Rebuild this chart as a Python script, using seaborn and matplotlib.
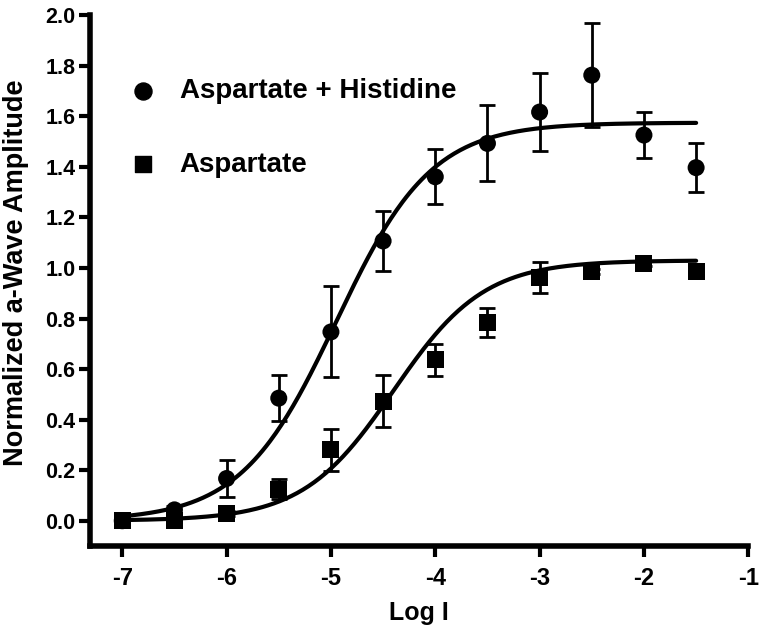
import numpy as np
import pandas as pd
import matplotlib
matplotlib.use("Agg")
import matplotlib.pyplot as plt
import seaborn as sns

# log concentrations
log_i = [-7, -6.5, -6, -5.5, -5, -4.5, -4, -3.5, -3, -2.5, -2, -1.5]

# aspartate + histidine (mean, sem)
his_mean = [0.0, 0.043, 0.167, 0.485, 0.747, 1.107, 1.361, 1.493, 1.617, 1.763, 1.526, 1.397]
his_sem = [0.01, 0.015, 0.075, 0.09, 0.18, 0.117, 0.108, 0.15, 0.155, 0.205, 0.09, 0.098]

# aspartate alone
asp_mean = [0.0, 0.002, 0.03, 0.125, 0.28, 0.472, 0.636, 0.784, 0.962, 0.988, 1.018, 0.985]
asp_sem = [0.005, 0.005, 0.01, 0.04, 0.083, 0.103, 0.064, 0.057, 0.06, 0.01, 0.01, 0.01]

# sigmoid fit parameters (top, logEC50, hill)
his_fit = (1.575, -4.95, 0.95)
asp_fit = (1.03, -4.40, 1.0)

labels = ["Aspartate + Histidine", "Aspartate"]


def sigmoid(x, top, ec50, hill):
    return top / (1 + 10 ** (hill * (ec50 - x)))


df = pd.DataFrame({
    "Log I": log_i * 2,
    "amp": his_mean + asp_mean,
    "sem": his_sem + asp_sem,
    "group": [labels[0]] * len(log_i) + [labels[1]] * len(log_i),
})

xs = np.linspace(-7, -1.5, 300)
fit_df = pd.DataFrame({
    "Log I": np.concatenate([xs, xs]),
    "amp": np.concatenate([sigmoid(xs, *his_fit), sigmoid(xs, *asp_fit)]),
    "group": [labels[0]] * len(xs) + [labels[1]] * len(xs),
})

sns.set_style("ticks")
plt.rcParams["font.family"] = ["Liberation Sans", "DejaVu Sans"]
plt.rcParams["font.weight"] = "bold"
plt.rcParams["axes.unicode_minus"] = False
for k in ["text.color", "axes.labelcolor", "xtick.color", "ytick.color", "axes.edgecolor"]:
    plt.rcParams[k] = "black"

fig = plt.figure(figsize=(7.62, 6.36), dpi=100)
ax = fig.add_axes([0.118, 0.1415, 0.864, 0.8345])

sns.lineplot(data=fit_df, x="Log I", y="amp", units="group", estimator=None,
             color="black", lw=3, ax=ax, legend=False, zorder=2)

for g, sub in df.groupby("group"):
    ax.errorbar(sub["Log I"], sub["amp"], yerr=sub["sem"], fmt="none",
                ecolor="black", elinewidth=2, capsize=6, capthick=2, zorder=3)

sns.scatterplot(data=df, x="Log I", y="amp", style="group",
                markers={labels[0]: "o", labels[1]: "s"},
                style_order=labels, color="black", s=150, edgecolor="black",
                linewidth=0, ax=ax, zorder=4, legend=False)

# legend built by hand so the spacing matches
h1 = ax.scatter([], [], marker="o", s=150, color="black")
h2 = ax.scatter([], [], marker="s", s=135, color="black")
ax.legend([h1, h2], labels, loc="upper left", bbox_to_anchor=(0.042, 0.902),
          borderaxespad=0, frameon=False, labelspacing=1.7, handlelength=1.0,
          handletextpad=0.83, scatterpoints=1, prop={"weight": "bold", "size": 20})

ax.set_xlim(-7.31, -1)
ax.set_ylim(-0.1, 2.0)
ax.set_xticks(range(-7, 0))
ax.set_yticks(np.arange(0, 2.01, 0.2))
ax.set_yticklabels([f"{v:.1f}" for v in np.arange(0, 2.01, 0.2)])
ax.set_xlabel("Log I", fontsize=18, fontweight="bold", labelpad=8)
ax.set_ylabel("Normalized a-Wave Amplitude", fontsize=19.5, fontweight="bold")
ax.yaxis.set_label_coords(-0.093, 0.515)

sns.despine(ax=ax)
for side in ["left", "bottom"]:
    ax.spines[side].set_linewidth(4)
ax.tick_params(axis="both", width=3, length=8, direction="out")
ax.tick_params(axis="x", labelsize=17, pad=7)
ax.tick_params(axis="y", labelsize=15.5, pad=2.5)
for lab in ax.get_xticklabels() + ax.get_yticklabels():
    lab.set_fontweight("bold")

fig.savefig("out.png", dpi=100)
